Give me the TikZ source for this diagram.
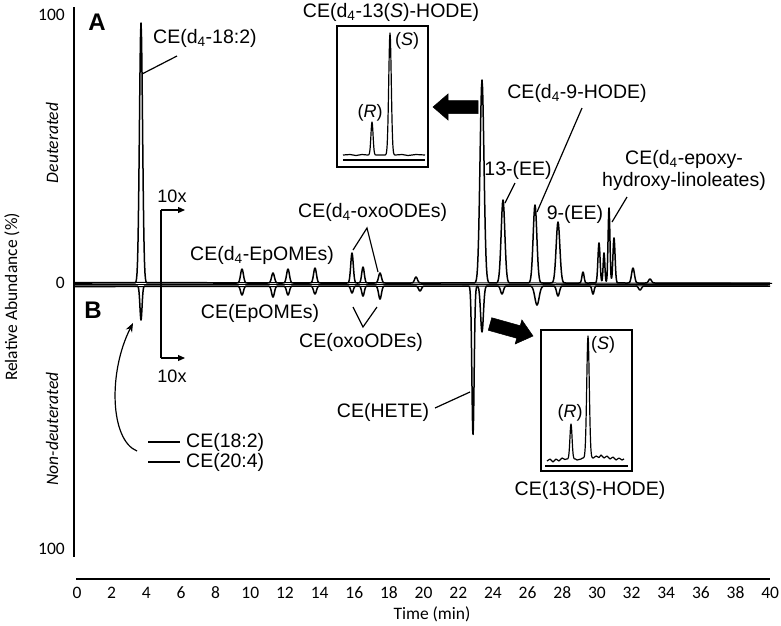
\documentclass[tikz,border=0pt]{standalone}
\usepackage{fontspec}
\setmainfont{Liberation Sans}
\newfontfamily\calfont{Carlito}
\usetikzlibrary{arrows.meta}
\newcommand\pk[4]{-- plot[domain=-3:3,samples=31] ({#1+#3*\x},{#4-(#2)*exp(-(\x)^2)})}
\newcommand\gs[3]{(#1)*exp(max(-9,-((\x-#2)/#3)^2))}
\tikzset{
  lab/.style={font=\fontsize{19.5}{22}\selectfont, inner sep=0pt},
  small/.style={font=\fontsize{18}{20}\selectfont, inner sep=0pt},
  tick/.style={font=\calfont\fontsize{17.5}{20}\selectfont, inner sep=0pt},
  panel/.style={font=\bfseries\fontsize{24}{26}\selectfont, inner sep=0pt},
  axis/.style={line width=2pt},
  trace/.style={line width=1.5pt, line join=round},
  leader/.style={line width=1.2pt},
  inbox/.style={line width=1.4pt},
  fatarrow/.style={fill=black, draw=black, line width=0.5pt, line join=miter}
}
\begin{document}
\begin{tikzpicture}[x=1pt,y=-1pt]
\useasboundingbox (0,0) rectangle (781,625);
% axes
\draw[axis] (74,7) -- (74,557);
\draw[axis] (76,579) -- (770,579);
\foreach \t in {0,2,...,40} \node[tick] (t\t) at ({77+\t*17.33},593) {\t};
\node[tick] (tlab) at (432,614) {Time (min)};
\node[tick,anchor=east] (ytop) at (65,15) {100};
\node[tick,anchor=east] (yzero) at (65,283) {0};
\node[tick,anchor=east] (ybot) at (65,549) {100};
\node[tick,rotate=90] (ylab) at (12,297) {Relative Abundance (\%)};
\node[tick,rotate=90,font=\calfont\itshape\fontsize{17.5}{20}\selectfont] (deut) at (52,143) {Deuterated};
\node[tick,rotate=90,font=\calfont\itshape\fontsize{17.5}{20}\selectfont] (ndeut) at (52,429) {Non-deuterated};
\node[panel] (pA) at (97,22) {A};
\node[panel] (pB) at (93,310) {B};
% baseline band
\draw[line width=1.4pt] (74,284.5) -- (770,284.5);
\draw[line width=1pt] (74,282.3) -- (772,283.3);
\draw[line width=1pt] (74,286.8) -- (768,285.8);
% upper trace (deuterated)
\draw[trace] (74,283) \pk{141}{260}{2.2}{283} \pk{242}{14}{2}{283} \pk{273}{10}{2}{283}
  \pk{288}{14}{2}{283} \pk{315}{15}{2}{283} \pk{352}{30}{1.8}{283} \pk{363}{16}{1.8}{283}
  \pk{380}{10}{2}{283} \pk{416}{6}{2}{283} \pk{482}{203}{2.8}{283} \pk{503}{83}{2.6}{283}
  \pk{535}{78}{2.6}{283} \pk{558}{61}{2.6}{283} \pk{583}{11}{1.5}{283}
  -- plot[domain=592:622,samples=91] (\x,{283-\gs{40}{599}{1.5}-\gs{30}{604}{1.2}-\gs{75}{609}{1.3}-\gs{45}{614}{1.5}})
  \pk{633}{15}{2}{283} \pk{650}{4}{2}{283} -- (770,283);
% lower trace (non-deuterated)
\draw[trace] (74,286) \pk{141}{-34}{1.5}{286} \pk{242}{-9}{2}{286} \pk{273}{-11}{2}{286}
  \pk{288}{-9}{2}{286} \pk{315}{-8}{2}{286} \pk{352}{-7}{1.8}{286} \pk{363}{-10}{1.8}{286}
  \pk{380}{-13}{2}{286} \pk{420}{-5}{2}{286}
  -- plot[domain=465:492,samples=91] (\x,{286+\gs{149}{473}{1.6}+\gs{46}{482}{2}})
  \pk{502}{-8}{2}{286} \pk{537}{-19}{3}{286} \pk{558}{-10}{2}{286} \pk{593}{-8}{1.5}{286}
  \pk{640}{-4}{2}{286} -- (770,286);
% 10x arrows
\draw[leader] (161,358) -- (161,210);
\draw[leader,-{Triangle[length=7pt,width=6pt]}] (161,210) -- (185,210);
\draw[leader,-{Triangle[length=7pt,width=6pt]}] (161,358) -- (185,358);
\node[small] (tenA) at (172,196) {10x};
\node[small] (tenB) at (172,376) {10x};
% labels, upper
\coordinate (p182) at (142,74); \coordinate (l182) at (177,56);
\node[lab,anchor=west] (L182) at (153,38) {CE(d\textsubscript{4}-18:2)};
\draw[leader] (p182) -- (l182);
\node[lab] (L13S) at (391,12) {CE(d\textsubscript{4}-13(\textit{S})-HODE)};
\coordinate (p9) at (537,212); \coordinate (l9) at (582,108);
\node[lab] (L9) at (577,93) {CE(d\textsubscript{4}-9-HODE)};
\draw[leader] (p9) -- (l9);
\coordinate (p13ee) at (505,203); \coordinate (l13ee) at (515,183);
\node[lab] (L13EE) at (518,170) {13-(EE)};
\draw[leader] (p13ee) -- (l13ee);
\node[lab] (L9EE) at (575,214) {9-(EE)};
\coordinate (pep) at (612,222); \coordinate (lep) at (627,197);
\node[lab,align=center] (Lep) at (684,170) {CE(d\textsubscript{4}-epoxy-\\hydroxy-linoleates)};
\draw[leader] (pep) -- (lep);
\node[lab,anchor=west] (Loxo) at (298,212) {CE(d\textsubscript{4}-oxoODEs)};
\coordinate (oxa) at (367,228); \coordinate (oxp1) at (353,250); \coordinate (oxp2) at (378,272);
\draw[leader] (oxp1) -- (oxa) -- (oxp2);
\node[lab] (Lep4) at (262,255) {CE(d\textsubscript{4}-EpOMEs)};
% labels, lower
\node[lab] (LEp) at (260,313) {CE(EpOMEs)};
\coordinate (ox1) at (353,307); \coordinate (oxv) at (363,327); \coordinate (ox2) at (377,307);
\draw[leader] (ox1) -- (oxv) -- (ox2);
\node[lab] (Loxn) at (361,342) {CE(oxoODEs)};
\coordinate (phete) at (470,392); \coordinate (lhete) at (435,408);
\node[lab] (Lhete) at (383,412) {CE(HETE)};
\draw[leader] (lhete) -- (phete);
\node[lab] (L13n) at (590,490) {CE(13(\textit{S})-HODE)};
% legend
\coordinate (lg1a) at (148,442); \coordinate (lg1b) at (180,442);
\coordinate (lg2a) at (148,462); \coordinate (lg2b) at (180,462);
\draw[leader] (lg1a) -- (lg1b);
\draw[leader] (lg2a) -- (lg2b);
\node[lab,anchor=west] (Lg1) at (186,442) {CE(18:2)};
\node[lab,anchor=west] (Lg2) at (186,462) {CE(20:4)};
\coordinate (cstart) at (137,451); \coordinate (ctip) at (133,323);
\draw[leader,-{Stealth[length=9pt,width=7pt]}] (cstart) .. controls (110,440) and (108,372) .. (ctip);
% upper inset
\node[draw,inbox,minimum width=91pt,minimum height=141pt,inner sep=0pt] (inA) at (382.5,96.5) {};
\draw[trace,line width=1.2pt] (343,155) -- (350,154.5) -- (356,155.5) -- (362,154.5) \pk{372}{33}{1.5}{155} \pk{390}{122}{1.8}{155} -- (402,154.5) -- (408,155.5) -- (416,154.5) -- (425,155);
\draw[line width=1.2pt] (343,160) -- (425,160);
\node[small] (RA) at (370,113) {(\textit{R})};
\node[small] (SA) at (407,41) {(\textit{S})};
% lower inset
\node[draw,inbox,minimum width=91pt,minimum height=141pt,inner sep=0pt] (inB) at (586.5,400.5) {};
\draw[trace,line width=1.2pt] (547,461) -- (550,459) -- (553,462) -- (556,459) -- (559,461) -- (562,458) -- (565,459.5)
  \pk{571}{35}{1.5}{459} -- (577,460) -- (581,459) \pk{588}{122}{1.8}{458} -- (596,456) -- (599,457.5) -- (601,455) -- (604,458)
  -- (607,456) -- (610,459) -- (613,457) -- (616,460) -- (619,458) -- (622,460) -- (624,459);
\draw[line width=1.2pt] (545,466) -- (628,466);
\node[small] (RB) at (570,413) {(\textit{R})};
\node[small] (SB) at (603,345) {(\textit{S})};
% fat arrows
\draw[fatarrow] (478,100.5) -- (448,100.5) -- (448,94) -- (433,107) -- (448,120) -- (448,113.5) -- (478,113.5) -- cycle;
\draw[fatarrow] (491.75,317.73) -- (520.25,325.7) -- (521.86,319.9) -- (533,336) -- (515.14,344.0) -- (516.75,338.24) -- (488.25,330.27) -- cycle;
\end{tikzpicture}
\end{document}
